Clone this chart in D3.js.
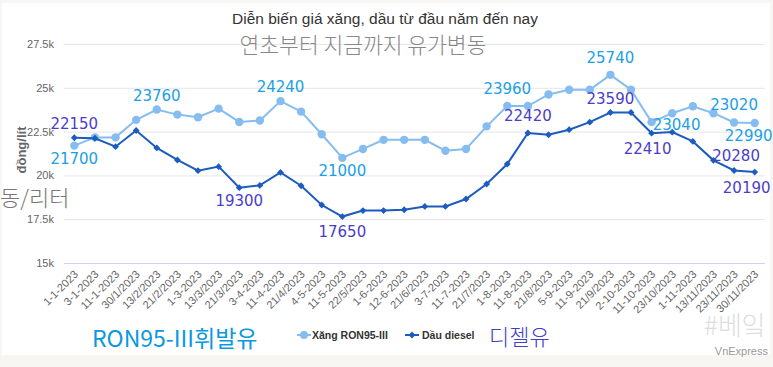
<!DOCTYPE html>
<html><head><meta charset="utf-8">
<script src="https://cdn.jsdelivr.net/npm/d3@7"></script>
<style>html,body{margin:0;padding:0;background:#f7f6f2;}svg{display:block;}</style>
</head><body><svg id="c" width="773" height="367"></svg>
<script>
const categories = ["1-1-2023","3-1-2023","11-1-2023","30/1/2023","13/2/2023","21/2/2023","1-3-2023","13/3/2023","21/3/2023","3-4-2023","11-4-2023","21/4/2023","4-5-2023","11-5-2023","22/5/2023","1-6-2023","12-6-2023","21/6/2023","3-7-2023","11-7-2023","21/7/2023","1-8-2023","11-8-2023","21/8/2023","5-9-2023","11-9-2023","21/9/2023","2-10-2023","11-10-2023","23/10/2023","1-11-2023","13/11/2023","23/11/2023","30/11/2023"];
const ron95 = [21700,22170,22170,23170,23760,23470,23320,23810,23050,23130,24240,23640,22350,21000,21510,22030,22030,22030,21410,21510,22800,23960,23960,24620,24890,24890,25740,24890,23040,23550,23950,23550,23020,22990];
const diesel = [22150,22120,21640,22560,21570,20880,20270,20500,19300,19430,20170,19410,18310,17650,17990,17990,18040,18230,18230,18650,19510,20650,22420,22320,22610,23040,23590,23590,22410,22470,21940,20860,20280,20190];
const yTicks = [15000,17500,20000,22500,25000,27500];
const ronLabelIdx = [0,4,10,13,21,26,28,32,33];
const dieselLabelIdx = [0,8,13,22,26,28,32,33];
// label placement: [dx, dy]
const labelOffsets = {"r0":[0,18],"r4":[0,-9],"r10":[0,-9],"r13":[0,18],"r21":[0,-12],"r26":[0,-12],"r28":[25,8],"r32":[0,-12],"r33":[-6,18],
  "d0":[0,-9],"d8":[0,18],"d13":[0,20],"d22":[0,-12],"d26":[0,-9],"d28":[-4,21],"d32":[2,-9],"d33":[-8,21]};

const svg = d3.select("#c");
svg.append("rect").attr("x",2).attr("y",3).attr("width",768).attr("height",352).attr("fill","#fff");

const m = {l:64, r:765, t:44, b:263};
const x = d3.scalePoint().domain(categories).range([m.l, m.r]).padding(0.5);
const y = d3.scaleLinear().domain([15000,27500]).range([m.b, m.t]);

svg.append("g").selectAll("line").data(yTicks).join("line")
  .attr("x1",m.l).attr("x2",m.r).attr("y1",d=>y(d)+0.5).attr("y2",d=>y(d)+0.5)
  .attr("stroke",d=>d===15000?"#ccd6eb":"#e6e6e6").attr("stroke-width",1);
const yAxis = d3.axisLeft(y).tickValues(yTicks).tickFormat(d=>(d/1000)+"k").tickSize(0).tickPadding(10);
const ga = svg.append("g").attr("transform",`translate(${m.l},0)`).call(yAxis);
ga.select(".domain").remove();
ga.selectAll("text").attr("font-family","Liberation Sans, Arial, sans-serif").attr("font-size","11px").attr("fill","#666");

const xAxis = d3.axisBottom(x).tickSize(0).tickPadding(0);
const gx = svg.append("g").attr("transform",`translate(0,${m.b})`).call(xAxis);
gx.select(".domain").remove();
gx.selectAll("text").attr("font-family","Liberation Sans, Arial, sans-serif").attr("font-size","11px").attr("fill","#666")
  .attr("text-anchor","end").attr("dy",null).attr("y",0)
  .attr("transform","translate(4,12) rotate(-45)");

svg.append("text").attr("x",385).attr("y",24).attr("text-anchor","middle")
  .attr("font-family","Liberation Sans, Arial, sans-serif").attr("font-size","15.5px").attr("fill","#333")
  .text("Diễn biến giá xăng, dầu từ đầu năm đến nay");
svg.append("text").attr("x",363).attr("y",53).attr("text-anchor","middle")
  .attr("font-family","Noto Sans CJK KR, sans-serif").attr("font-weight","300").attr("font-size","21.5px").attr("fill","#888")
  .text("연초부터 지금까지 유가변동");

svg.append("text").attr("transform","translate(26,150) rotate(-90)").attr("text-anchor","middle")
  .attr("font-family","Liberation Sans, Arial, sans-serif").attr("font-weight","bold").attr("font-size","13px").attr("fill","#666")
  .text("đồng/lít");
svg.append("text").attr("x",0).attr("y",206)
  .attr("font-family","Noto Sans CJK KR, sans-serif").attr("font-weight","300").attr("font-size","22px").attr("fill","#777")
  .text("동/리터");

const ronColor="#86bdf0", dieselColor="#1c5cbf";
const line = d3.line().x((d,i)=>x(categories[i])).y(d=>y(d));
svg.append("path").datum(ron95).attr("d",line).attr("fill","none").attr("stroke",ronColor).attr("stroke-width",2);
svg.append("g").selectAll("circle").data(ron95).join("circle")
  .attr("cx",(d,i)=>x(categories[i])).attr("cy",d=>y(d)).attr("r",4.2).attr("fill",ronColor);
svg.append("path").datum(diesel).attr("d",line).attr("fill","none").attr("stroke",dieselColor).attr("stroke-width",2);
const diamond = d3.symbol().type(d3.symbolDiamond2).size(30);
svg.append("g").selectAll("path").data(diesel).join("path")
  .attr("transform",(d,i)=>`translate(${x(categories[i])},${y(d)})`).attr("d",diamond).attr("fill",dieselColor);

function labels(idx, data, key, color){
  svg.append("g").selectAll("text").data(idx).join("text")
    .attr("x",i=>x(categories[i])+labelOffsets[key+i][0])
    .attr("y",i=>y(data[i])+labelOffsets[key+i][1])
    .attr("text-anchor","middle")
    .attr("font-family","DejaVu Sans, sans-serif").attr("font-size","15px").attr("fill",color)
    .text(i=>data[i]);
}
labels(ronLabelIdx, ron95, "r", "#1ba0e6");
labels(dieselLabelIdx, diesel, "d", "#4a3ec9");

svg.append("text").attr("x",92).attr("y",347)
  .attr("font-family","Noto Sans CJK KR, sans-serif").attr("font-size","23px").attr("fill","#0a98de")
  .text("RON95-III휘발유");
const lg = svg.append("g").attr("font-family","Liberation Sans, Arial, sans-serif").attr("font-size","10.5px").attr("font-weight","bold").attr("fill","#333");
lg.append("line").attr("x1",297).attr("x2",311).attr("y1",335).attr("y2",335).attr("stroke",ronColor).attr("stroke-width",2);
lg.append("circle").attr("cx",304).attr("cy",335).attr("r",4).attr("fill",ronColor);
lg.append("text").attr("x",312).attr("y",339).text("Xăng RON95-III");
lg.append("line").attr("x1",405).attr("x2",419).attr("y1",335).attr("y2",335).attr("stroke",dieselColor).attr("stroke-width",2);
lg.append("path").attr("transform","translate(412,335)").attr("d",diamond).attr("fill",dieselColor);
lg.append("text").attr("x",422).attr("y",339).text("Dầu diesel");
svg.append("text").attr("x",489).attr("y",345)
  .attr("font-family","Noto Sans CJK KR, sans-serif").attr("font-weight","300").attr("font-size","22px").attr("fill","#4040c8")
  .text("디젤유");
svg.append("text").attr("x",704).attr("y",335)
  .attr("font-family","Noto Sans CJK KR, sans-serif").attr("font-weight","300").attr("font-size","26px").attr("fill","#dedede")
  .text("#베잌");
svg.append("text").attr("x",768).attr("y",355).attr("text-anchor","end")
  .attr("font-family","Liberation Sans, Arial, sans-serif").attr("font-size","11px").attr("fill","#999")
  .text("VnExpress");
</script></body></html>
